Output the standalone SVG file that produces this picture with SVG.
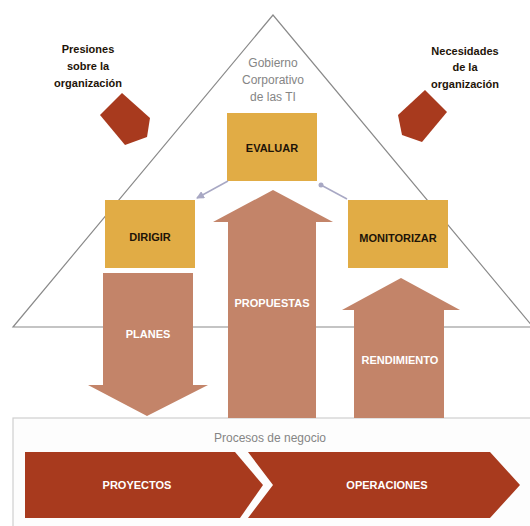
<svg xmlns="http://www.w3.org/2000/svg" width="530" height="526" viewBox="0 0 530 526">
<style>
.lbl{font-family:"Liberation Sans",Arial,sans-serif;font-weight:bold;font-size:11px;fill:#1e1408;text-anchor:middle}
.wl{font-family:"Liberation Sans",Arial,sans-serif;font-weight:bold;font-size:11px;fill:#ffffff;text-anchor:middle}
.gr{font-family:"Liberation Sans",Arial,sans-serif;font-size:12px;fill:#858585;text-anchor:middle}
.box{fill:#E1AC45}
.fat{fill:#C38469}
.dk{fill:#A83A1E}
</style>
<defs>
<marker id="ah" markerWidth="8" markerHeight="8" refX="7" refY="4" orient="auto" markerUnits="userSpaceOnUse">
<path d="M0,0 L8,4 L0,8 z" fill="#a8a8c4"/>
</marker>
<marker id="dot" markerWidth="6" markerHeight="6" refX="3" refY="3" markerUnits="userSpaceOnUse">
<circle cx="3" cy="3" r="2.5" fill="#a8a8c4"/>
</marker>
</defs>
<rect width="530" height="526" fill="#ffffff"/>
<g id="triangle">
<polygon points="273,15 13,327 533,327" fill="none" stroke="#8a8a8a" stroke-width="1.2"/>
<text class="gr" x="273" y="67">Gobierno</text>
<text class="gr" x="273" y="84">Corporativo</text>
<text class="gr" x="273" y="101">de las TI</text>
</g>
<g id="presiones">
<polygon class="dk" points="122,93 150,118 147,137 125,145 100,115"/>
<text class="lbl" x="88" y="53">Presiones</text>
<text class="lbl" x="88" y="70">sobre la</text>
<text class="lbl" x="88" y="87">organización</text>
</g>
<g id="necesidades">
<polygon class="dk" points="425,90 398,115 402,135 422,142 447,112"/>
<text class="lbl" x="465" y="55">Necesidades</text>
<text class="lbl" x="465" y="71">de la</text>
<text class="lbl" x="465" y="88">organización</text>
</g>
<g id="panel">
<rect x="13" y="418" width="530" height="120" fill="#fdfdfd" stroke="#cfcfcf" stroke-width="1.2"/>
<text class="gr" x="270" y="442">Procesos de negocio</text>
</g>
<g id="planes">
<polygon class="fat" points="103,273 193,273 193,385 208,385 147,416 88,385 103,385"/>
<text class="wl" x="148" y="338">PLANES</text>
</g>
<g id="propuestas">
<polygon class="fat" points="273,190 333,222 316,222 316,418 228,418 228,222 213,222"/>
<text class="wl" x="272" y="307">PROPUESTAS</text>
</g>
<g id="rendimiento">
<polygon class="fat" points="401,278 460,310 444,310 444,418 354,418 354,310 342,310"/>
<text class="wl" x="400" y="364">RENDIMIENTO</text>
</g>
<g id="evaluar">
<rect class="box" x="227" y="113" width="90" height="68"/>
<text class="lbl" x="272" y="152">EVALUAR</text>
</g>
<g id="dirigir">
<rect class="box" x="105" y="200" width="90" height="68"/>
<text class="lbl" x="150" y="241">DIRIGIR</text>
</g>
<g id="monitorizar">
<rect class="box" x="348" y="200" width="100" height="68"/>
<text class="lbl" x="398" y="242">MONITORIZAR</text>
</g>
<g id="proyectos">
<polygon class="dk" points="25,452 235,452 263,485 240,518 25,518"/>
<text class="wl" x="137" y="489">PROYECTOS</text>
</g>
<g id="operaciones">
<polygon class="dk" points="248,452 490,452 520,485 490,518 248,518 273,485"/>
<text class="wl" x="387" y="489">OPERACIONES</text>
</g>
<g id="connectors" fill="none" stroke="#a8a8c4" stroke-width="1.5">
<line x1="228" y1="181" x2="197" y2="198" marker-end="url(#ah)"/>
<line x1="347" y1="199" x2="321" y2="185" marker-end="url(#dot)"/>
</g>
</svg>
